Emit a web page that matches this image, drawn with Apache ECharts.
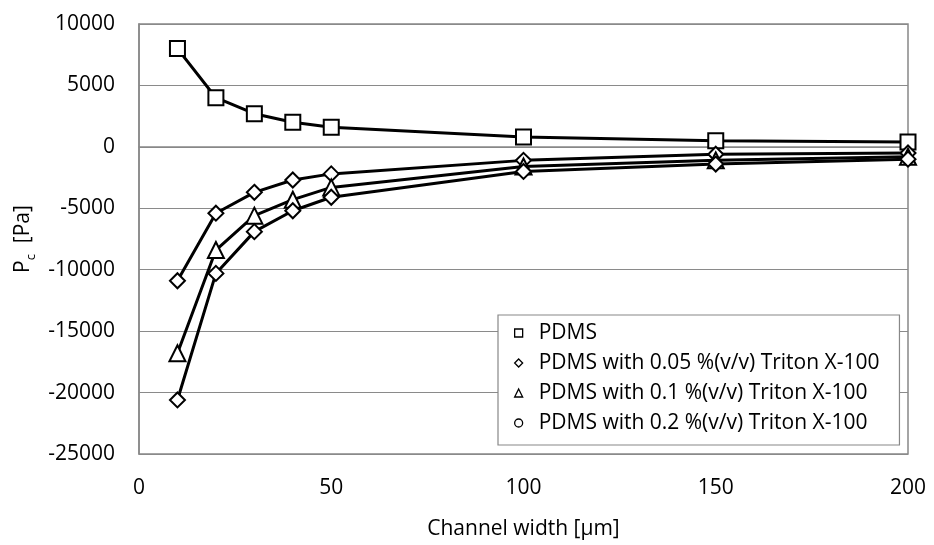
<!DOCTYPE html>
<html>
<head>
<meta charset="utf-8">
<script src="https://cdn.jsdelivr.net/npm/echarts@6/dist/echarts.min.js"></script>
<style>html,body{margin:0;padding:0;background:#fff}#c{width:934px;height:545px}</style>
</head>
<body>
<div id="c"></div>
<script>
const widths = [10, 20, 30, 40, 50, 100, 150, 200];
const pdms = [8000, 4000, 2700, 2000, 1600, 800, 500, 400];
const triton005 = [-10900, -5400, -3700, -2700, -2200, -1100, -600, -500];
const triton01 = [-16800, -8400, -5600, -4300, -3300, -1600, -1100, -800];
const triton02 = [-20600, -10300, -6900, -5200, -4100, -2000, -1400, -1000];
const seriesNames = ['PDMS', 'PDMS with 0.05 %(v/v) Triton X-100', 'PDMS with 0.1 %(v/v) Triton X-100', 'PDMS with 0.2 %(v/v) Triton X-100'];
const xTicks = [0, 50, 100, 150, 200];
const yTicks = [-25000, -20000, -15000, -10000, -5000, 0, 5000, 10000];

const FONT = 'Open Sans';
const pairs = v => widths.map((x, i) => [x, v[i]]);
function mk(name, data, symbol, size) {
  return {
    name, type: 'line', data: pairs(data), symbol, symbolSize: size,
    lineStyle: { color: '#000', width: 3 },
    itemStyle: { color: '#fff', borderColor: '#000', borderWidth: 2 },
    emphasis: { disabled: true }, animation: false
  };
}
const legendIcons = ['rect', 'diamond', 'triangle', 'circle'];
const chart = echarts.init(document.getElementById('c'));
chart.setOption({
  animation: false,
  grid: { left: 139, right: 26, top: 24, bottom: 90, show: true, borderColor: '#888', borderWidth: 1.5, backgroundColor: 'transparent' },
  xAxis: {
    type: 'value', min: xTicks[0], max: xTicks[xTicks.length - 1], interval: 50,
    name: 'Channel width [µm]', nameLocation: 'middle', nameGap: 65,
    nameTextStyle: { fontFamily: FONT, fontSize: 21, color: '#000' },
    axisLine: { show: true, lineStyle: { color: '#888', width: 1.5 } },
    axisTick: { show: false },
    splitLine: { show: false },
    axisLabel: { fontFamily: FONT, fontSize: 21, color: '#000', margin: 24, formatter: v => String(v) }
  },
  yAxis: {
    type: 'value', min: yTicks[0], max: yTicks[yTicks.length - 1], interval: 5000,
    name: '{a|P}{b|c}{a|  [Pa]}', nameLocation: 'middle', nameGap: 95,
    nameTextStyle: {
      rich: {
        a: { fontFamily: FONT, fontSize: 21, color: '#000', lineHeight: 28 },
        b: { fontFamily: FONT, fontSize: 13, color: '#000', verticalAlign: 'bottom', lineHeight: 14 }
      }
    },
    axisLine: { show: true, lineStyle: { color: '#888', width: 1.5 } },
    axisTick: { show: false },
    splitLine: { show: true, lineStyle: { color: '#8a8a8a', width: 1.2 } },
    axisLabel: { fontFamily: FONT, fontSize: 21, color: '#000', margin: 24, formatter: v => String(v) }
  },
  legend: {
    orient: 'vertical', left: 498, top: 315,
    padding: [7, 20, 11, 16],
    backgroundColor: '#fff', borderColor: '#888', borderWidth: 1.2,
    itemWidth: 8, itemHeight: 8, itemGap: 8,
    textStyle: { fontFamily: FONT, fontSize: 21, color: '#000', lineHeight: 22, padding: [0, 0, 0, 11] },
    data: seriesNames.map((n, i) => ({ name: n, icon: legendIcons[i], itemStyle: { color: '#fff', borderColor: '#000', borderWidth: 1.3 } })),
    selectedMode: false
  },
  series: [
    mk(seriesNames[0], pdms, 'rect', 15),
    mk(seriesNames[1], triton005, 'diamond', 15),
    mk(seriesNames[2], triton01, 'triangle', 16),
    mk(seriesNames[3], triton02, 'diamond', 15)
  ]
});
</script>
</body>
</html>
